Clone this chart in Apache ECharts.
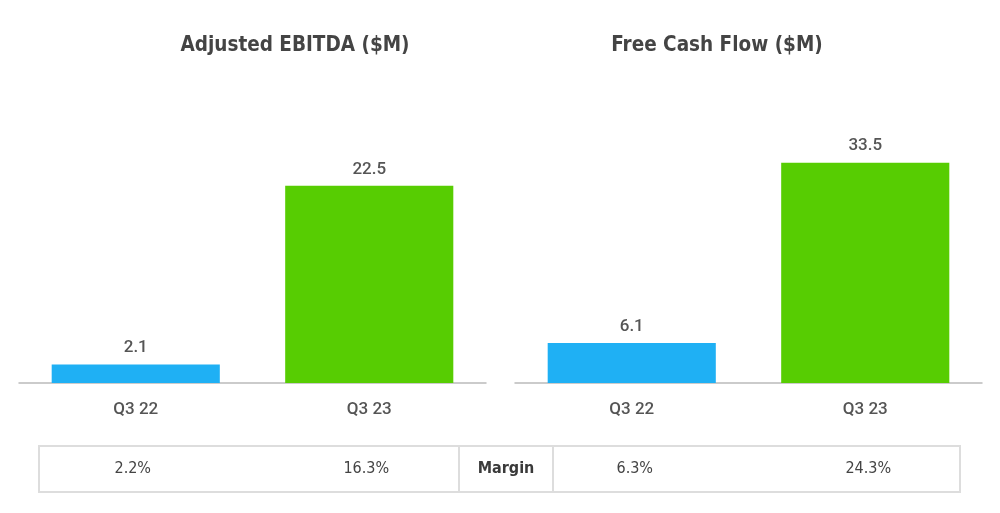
<!DOCTYPE html>
<html><head><meta charset="utf-8">
<script src="https://cdn.jsdelivr.net/npm/echarts@6/dist/echarts.min.js"></script>
<style>html,body{margin:0;padding:0;background:#fff}#c{width:1000px;height:513px}</style>
</head><body><div id="c"></div>
<script>
const categories = ['Q3 22', 'Q3 23'];
const ebitdaValues = [2.1, 22.5];
const fcfValues = [6.1, 33.5];
const ebitdaMargins = ['2.2%', '16.3%'];
const fcfMargins = ['6.3%', '24.3%'];
const titles = ['Adjusted EBITDA ($M)', 'Free Cash Flow ($M)'];
const marginLabel = 'Margin';
const barColors = ['#1fb0f4', '#57cd02'];

const chart = echarts.init(document.getElementById('c'));
const labelStyle = {show: true, position: 'top', distance: 8, color: '#555', fontSize: 17, fontWeight: 500, fontFamily: 'Roboto'};
function mkSeries(vals, idx) {
  return {
    type: 'bar', xAxisIndex: idx, yAxisIndex: idx, barWidth: '72%',
    data: vals.map((v, i) => ({value: v, itemStyle: {color: barColors[i]}})),
    label: labelStyle, silent: true
  };
}
const xAxisBase = {
  type: 'category', data: categories,
  axisLine: {lineStyle: {color: '#bbbbbb', width: 1.5}}, axisTick: {show: false},
  axisLabel: {color: '#555', fontSize: 17, fontWeight: 500, fontFamily: 'Roboto', margin: 18}
};
const yAxisBase = {type: 'value', min: 0, show: false, splitLine: {show: false}};
chart.setOption({
  animation: false,
  title: [
    {text: titles[0], left: 290, top: 30, textAlign: 'center', textStyle: {fontFamily: 'DejaVu Sans Condensed', fontWeight: 'bold', fontSize: 20.5, color: '#444'}},
    {text: titles[1], left: 712, top: 30, textAlign: 'center', textStyle: {fontFamily: 'DejaVu Sans Condensed', fontWeight: 'bold', fontSize: 20.5, color: '#444'}}
  ],
  grid: [
    {left: 19, width: 467, top: 120, height: 263},
    {left: 515, width: 467, top: 120, height: 263}
  ],
  xAxis: [Object.assign({gridIndex: 0}, xAxisBase), Object.assign({gridIndex: 1}, xAxisBase)],
  yAxis: [Object.assign({gridIndex: 0, max: 30}, yAxisBase), Object.assign({gridIndex: 1, max: 40}, yAxisBase)],
  series: [mkSeries(ebitdaValues, 0), mkSeries(fcfValues, 1)]
});

const tTop = 446, tBot = 492, tLeft = 39, tRight = 960, d1 = 459, d2 = 553;
const tY = (tTop + tBot) / 2;
const border = {stroke: '#dddddd', lineWidth: 2};
const textStyle = {fill: '#444', fontSize: 16, fontFamily: 'DejaVu Sans Condensed', align: 'center', verticalAlign: 'middle'};
const g = [
  {type: 'rect', shape: {x: tLeft, y: tTop, width: tRight - tLeft, height: tBot - tTop}, style: {fill: 'none', stroke: border.stroke, lineWidth: border.lineWidth}, silent: true},
  {type: 'line', shape: {x1: d1, y1: tTop, x2: d1, y2: tBot}, style: border, silent: true},
  {type: 'line', shape: {x1: d2, y1: tTop, x2: d2, y2: tBot}, style: border, silent: true},
  {type: 'text', x: (d1 + d2) / 2, y: tY, style: Object.assign({text: marginLabel}, textStyle, {fontWeight: 'bold', fill: '#3a3a3a'}), silent: true}
];
categories.forEach((c, i) => {
  const x0 = chart.convertToPixel({xAxisIndex: 0}, c);
  const x1 = chart.convertToPixel({xAxisIndex: 1}, c);
  g.push({type: 'text', x: x0 - 3, y: tY, style: Object.assign({text: ebitdaMargins[i]}, textStyle), silent: true});
  g.push({type: 'text', x: x1 + 3, y: tY, style: Object.assign({text: fcfMargins[i]}, textStyle), silent: true});
});
chart.setOption({graphic: g});
</script></body></html>
